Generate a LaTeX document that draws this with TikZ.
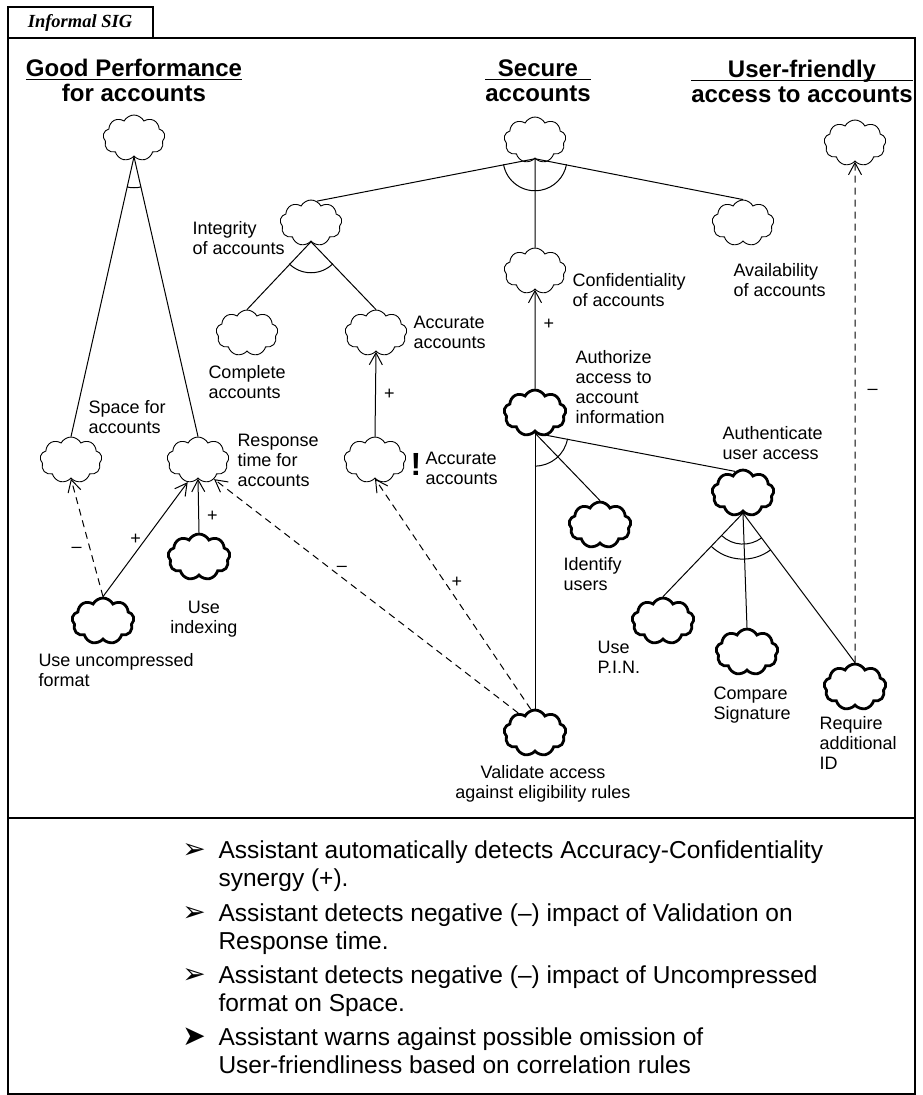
\documentclass[tikz,border=0pt]{standalone}
\usepackage{fontspec}
\setmainfont{Liberation Sans}
\newfontfamily\sigfont{Liberation Serif}
\newfontfamily\dingfont{DejaVu Sans}
\usetikzlibrary{shapes.symbols,arrows.meta}

\tikzset{
	softgoal/.style={cloud, cloud puffs=9, cloud puff arc=125, cloud ignores aspect, draw,
		line width=0.9pt, minimum width=62pt, minimum height=46pt, inner sep=0pt},
	opgoal/.style={line width=2.8pt},
	lbl/.style={font=\fontsize{18}{20}\selectfont, align=left, anchor=base west, inner sep=0pt},
	sign/.style={font=\fontsize{18}{20}\selectfont, inner sep=0pt},
	goaltitle/.style={font=\bfseries\fontsize{24}{26}\selectfont, anchor=base, inner sep=0pt},
	corr/.style={dashed, dash pattern=on 7pt off 5pt},
	bullet/.style={font=\dingfont\fontsize{28}{28}\selectfont, anchor=base, inner sep=0pt},
	remark/.style={font=\fontsize{24.5}{28}\selectfont, align=left, anchor=base west, inner sep=0pt}
}

\begin{document}
\begin{tikzpicture}[x=1pt, y=1pt, line width=1pt, >={Straight Barb[length=12pt,width=13pt]}]
			\useasboundingbox (0,0) rectangle (923,-1095);
			
			% frame and tab
			\draw[line width=1.3pt] (8,-38) rectangle (915,-1094);
			\draw[line width=1.3pt] (8,-818) -- (915,-818);
			\draw[line width=1.3pt] (8,-7) rectangle (153,-38);
			\node[font=\sigfont\bfseries\itshape\fontsize{18.5}{20}\selectfont, inner sep=0pt] (sig) at (80,-23) {Informal SIG};
			
			% softgoal titles
			\setlength{\arrayrulewidth}{1.3pt}
			\node[goaltitle] (tperf) at (134,-76) {\begin{tabular}[t]{@{}c@{}}Good Performance\\[-4.8pt]\hline\rule{0pt}{21pt}for accounts\end{tabular}};
			\node[goaltitle] (tsec) at (538,-76) {\begin{tabular}[t]{@{}c@{}}Secure\\[-4.8pt]\hline\rule{0pt}{21pt}accounts\end{tabular}};
			\node[goaltitle] (tuf) at (802,-77) {\begin{tabular}[t]{@{}c@{}}User-friendly\\[-4.8pt]\hline\rule{0pt}{21pt}access to accounts\end{tabular}};
			
			\begin{scope}[every node/.style={softgoal}]
			\node 			(perf) at (134, -138)  {};
			\node 			(sec) at (535, -140)   {};
			\node 			(uf) at (855, -143)    {};
			
			\node 			(integ) at (311, -223) {};
			\node 			(conf) at (535, -271)  {};
			\node 			(avail) at (743, -223) {};
			
			\node 			(compl) at (247, -333) {};
			\node 			(accA) at (376, -333)  {};
			\node 			(accB) at (375, -460)  {};
			
			\node 			(space) at (71, -460)  {};
			\node 			(resp) at (198, -460)  {};
			
			\node[opgoal]	(idx) at (199, -557)   {};
			\node[opgoal]	(unc) at (103, -621)   {};
			
			\node[opgoal]	(auth) at (535, -413)  {};
			\node[opgoal]	(authn) at (743, -493) {};
			\node[opgoal]	(ident) at (600, -525) {};
			\node[opgoal]	(pin) at (663, -621)   {};
			\node[opgoal]	(cmp) at (747, -652)   {};
			\node[opgoal]	(req) at (855, -687)   {};
			\node[opgoal]	(val) at (535, -733)   {};
			\end{scope}
			
			% labels (placed at the baseline of their last line)
			\node[lbl] (linteg) at (192, -254) {Integrity\\of accounts};
			\node[lbl] (lcompl) at (208, -398) {Complete\\accounts};
			\node[lbl] (laccA) at (413, -348) {Accurate\\accounts};
			\node[lbl] (laccB) at (425, -484) {Accurate\\accounts};
			\node[font=\bfseries\fontsize{32}{32}\selectfont, anchor=base, inner sep=0pt] (excl) at (416, -475) {!};
			\node[lbl] (lconf) at (572, -306) {Confidentiality\\of accounts};
			\node[lbl] (lavail) at (733, -296) {Availability\\of accounts};
			\node[lbl] (lauth) at (575, -423) {Authorize\\access to\\account\\information};
			\node[lbl] (lauthn) at (722, -459) {Authenticate\\user access};
			\node[lbl] (lident) at (563, -590) {Identify\\users};
			\node[lbl] (lpin) at (597, -673) {Use\\P.I.N.};
			\node[lbl] (lcmp) at (713, -719) {Compare\\Signature};
			\node[lbl] (lreq) at (819, -769) {Require\\additional\\ID};
			\node[lbl, anchor=base, align=center] (lval) at (543, -798) {Validate access\\against eligibility rules};
			\node[lbl] (lunc) at (38, -686) {Use uncompressed\\format};
			\node[lbl, anchor=base, align=center] (lidx) at (204, -633) {Use\\indexing};
			\node[lbl] (lspace) at (88, -433) {Space for\\accounts};
			\node[lbl] (lresp) at (237, -486) {Response\\time for\\accounts};
			
			% decompositions
			\path (perf.south) edge (space.north);
			\path (perf.south) edge (resp.north);
			\draw ([shift={(257:31)}]perf.south) arc[start angle=257, end angle=283, radius=31];
			
			\path (sec.south) edge (integ.75);
			\path (sec.south) edge (conf.north);
			\path (sec.south) edge (avail.north);
			\draw ([shift={(190:32)}]sec.south) arc[start angle=190, end angle=350, radius=32];
			
			\path (integ.south) edge (compl.north);
			\path (integ.south) edge (accA.north);
			\draw ([shift={(225:31)}]integ.south) arc[start angle=225, end angle=315, radius=31];
			
			\path (auth.south) edge (val.north);
			\path (auth.south) edge (ident.north);
			\path (auth.south) edge (authn.110);
			\draw ([shift={(270:33)}]auth.south) arc[start angle=270, end angle=350, radius=33];
			
			\path (authn.south) edge (pin.north);
			\path (authn.south) edge (cmp.north);
			\path (authn.south) edge (req.north);
			\draw ([shift={(226:31)}]authn.south) arc[start angle=226, end angle=307, radius=31];
			\draw ([shift={(226:46)}]authn.south) arc[start angle=226, end angle=307, radius=46];
			
			% contributions
			\path [->] (unc.north) edge node[sign, pos=.5, left=4pt] {+} (resp.245);
			\path [->, corr] (unc.north) edge node[sign, pos=.4, left=8pt] {--} (space.south);
			\path [->] (idx.north) edge node[sign, pos=.3, right=8pt] {+} (resp.south);
			\path [->] (accB.north) edge node[sign, pos=.5, right=8pt] {+} (accA.south);
			\path [->] (auth.north) edge node[sign, pos=.65, right=8pt] {+} (conf.south);
			\path [->, corr] (val.130) edge node[sign, pos=.58, above=5pt] {--} (resp.310);
			\path [->, corr] (val.100) edge node[sign, pos=.55, right=6pt] {+} (accB.south);
			\path [->, corr] (req.north) edge node[sign, pos=.54, right=12pt] {--} (uf.south);
			
			% remarks (placed at the baseline of their last line)
			\node[bullet] (b1) at (194, -858) {➢};
			\node[remark] (r1) at (218, -886) {Assistant automatically detects Accuracy-Confidentiality\\synergy (+).};
			\node[bullet] (b2) at (194, -921) {➢};
			\node[remark] (r2) at (218, -949) {Assistant detects negative (--) impact of Validation on\\Response time.};
			\node[bullet] (b3) at (194, -983) {➢};
			\node[remark] (r3) at (218, -1011) {Assistant detects negative (--) impact of Uncompressed\\format on Space.};
			\node[bullet] (b4) at (194, -1045) {➤};
			\node[remark] (r4) at (218, -1073) {Assistant warns against possible omission of\\User-friendliness based on correlation rules};
\end{tikzpicture}
\end{document}
